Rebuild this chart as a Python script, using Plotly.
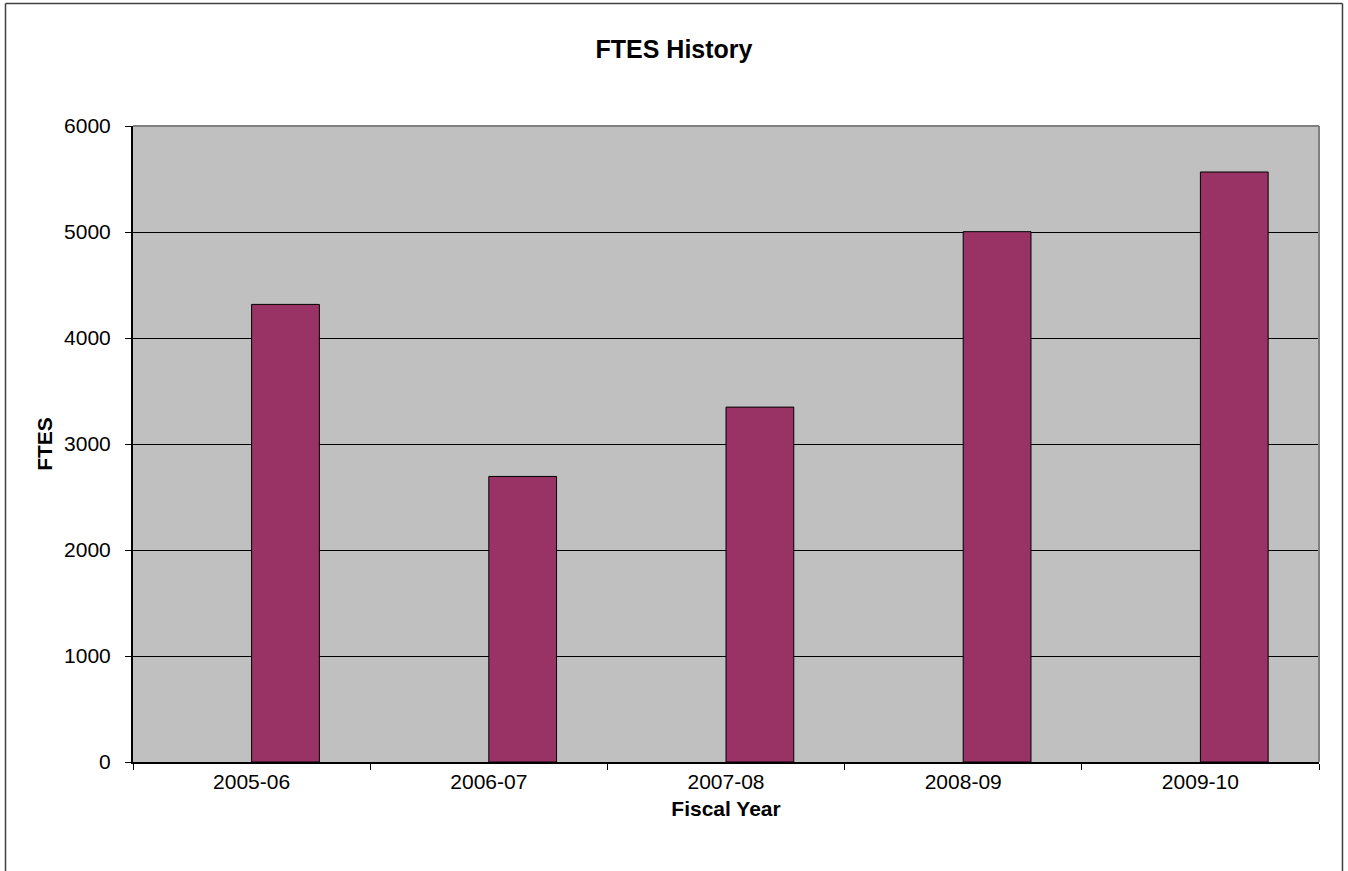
import plotly.graph_objects as go

fiscal_years = ["2005-06", "2006-07", "2007-08", "2008-09", "2009-10"]
ftes = [4317, 2694, 3348, 5003, 5566]
y_ticks = [0, 1000, 2000, 3000, 4000, 5000, 6000]

FONT = "Liberation Sans, Arial, sans-serif"

fig = go.Figure()
fig.add_trace(go.Bar(
    x=fiscal_years, y=ftes,
    offset=0, width=0.2857,
    marker=dict(color="#993366", line=dict(color="#000000", width=1)),
    showlegend=False,
))

fig.update_layout(
    width=1348, height=871,
    margin=dict(l=133, r=29, t=126, b=109),
    paper_bgcolor="white",
    plot_bgcolor="#C0C0C0",
    font=dict(family=FONT, size=21, color="black"),
    title=dict(text="<b>FTES History</b>", x=0.5, xref="container", y=1 - 49 / 871,
               yref="container", yanchor="middle", xanchor="center",
               font=dict(family=FONT, size=25, color="black")),
    xaxis=dict(
        type="category", showgrid=False, showline=True, linecolor="black", linewidth=2,
        ticks="outside", tickson="boundaries", ticklen=6, tickcolor="black",
        tickfont=dict(size=21),
        title=dict(text="<b>Fiscal Year</b>", standoff=9, font=dict(size=21)),
        automargin=True,
    ),
    yaxis=dict(
        range=[0, 6000], tickvals=y_ticks, showgrid=True, gridcolor="black", gridwidth=1,
        showline=True, linecolor="black", linewidth=2, zeroline=False,
        ticks="outside", ticklen=6, tickcolor="black", tickfont=dict(size=21),
        ticklabelstandoff=10,
        title=dict(text="<b>FTES</b>", standoff=6, font=dict(size=21)),
        automargin=True,
    ),
)

# plot-area top/right border (gray)
fig.add_shape(type="line", xref="paper", yref="paper", x0=0, x1=1, y0=1, y1=1,
              line=dict(color="#808080", width=2), layer="above")
fig.add_shape(type="line", xref="paper", yref="paper", x0=1, x1=1, y0=0, y1=1,
              line=dict(color="#808080", width=2), layer="above")

# outer chart frame (left, top, right edges)
frame_left, frame_right, frame_top, frame_bottom = -0.1075, 1.0198, 1.1926, -0.2
frame_line = dict(color="#404040", width=1.5)
fig.add_shape(type="line", xref="paper", yref="paper", x0=frame_left, x1=frame_left,
              y0=frame_bottom, y1=frame_top, line=frame_line, layer="above")
fig.add_shape(type="line", xref="paper", yref="paper", x0=frame_left, x1=frame_right,
              y0=frame_top, y1=frame_top, line=frame_line, layer="above")
fig.add_shape(type="line", xref="paper", yref="paper", x0=frame_right, x1=frame_right,
              y0=frame_bottom, y1=frame_top, line=frame_line, layer="above")

fig.write_html("out.html", config={"displayModeBar": False},
               post_script="document.body.style.margin='0';")
